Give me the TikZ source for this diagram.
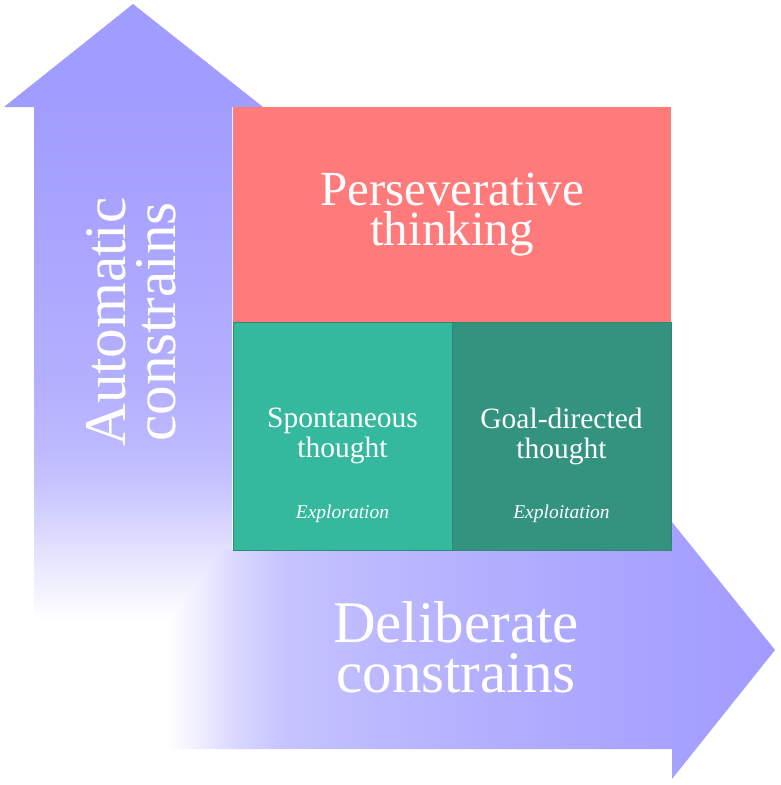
\documentclass[tikz,border=0pt]{standalone}
\usepackage{fontspec}
\setmainfont{Liberation Serif}
\usepackage{xcolor}
\usetikzlibrary{positioning}
\definecolor{cArrow}{HTML}{A19CFF}
\definecolor{cPers} {HTML}{FF7B7B}
\definecolor{cSpont}{HTML}{34B89E}
\definecolor{cGoal} {HTML}{33937F}
% fades of the two big arrows (25bp..75bp = bounding box)
\pgfdeclareverticalshading{vfade}{100bp}{color(0bp)=(white); color(25bp)=(white);
  color(28bp)=(cArrow!16!white); color(30.7bp)=(cArrow!30!white);
  color(33.4bp)=(cArrow!45!white); color(36.1bp)=(cArrow!60!white);
  color(38.8bp)=(cArrow!70!white); color(44.2bp)=(cArrow!80!white);
  color(55bp)=(cArrow!90!white); color(67.2bp)=(cArrow); color(100bp)=(cArrow)}
\pgfdeclarehorizontalshading{hfade}{100bp}{color(0bp)=(white); color(25.2bp)=(white);
  color(27.9bp)=(cArrow!18!white); color(30.6bp)=(cArrow!40!white);
  color(34.7bp)=(cArrow!60!white); color(42.9bp)=(cArrow!72!white);
  color(51.1bp)=(cArrow!80!white); color(59.3bp)=(cArrow!88!white);
  color(66.6bp)=(cArrow!94!white); color(75bp)=(cArrow); color(100bp)=(cArrow)}
\tikzset{
  qbox/.style={rectangle,inner sep=0pt,outer sep=0pt,align=center,text=white,
               font=\fontsize{29.5}{30}\selectfont},
  pbox/.style={qbox,fill=cPers,minimum width=438pt,minimum height=215pt,
               font=\fontsize{49}{40}\selectfont},
  sbox/.style={qbox,fill=cSpont,draw=cGoal!92!black,line width=0.5pt,
               minimum width=219pt,minimum height=228pt},
  gbox/.style={qbox,fill=cGoal,draw=cGoal!92!black,line width=0.5pt,
               minimum width=219pt,minimum height=228pt},
  qlab/.style={text=white,inner sep=0pt,font=\fontsize{19.5}{20}\selectfont\itshape},
  atext/.style={text=white,align=center,inner sep=0pt,
                font=\fontsize{59}{50}\selectfont},
}
\begin{document}
\begin{tikzpicture}[x=1pt,y=-1pt]
  \useasboundingbox (0,0) rectangle (780,785);
  % arrows
  \shade[shading=vfade] (133,4) -- (263,107) -- (232,107) -- (232,620)
    -- (34,620) -- (34,107) -- (4,107) -- cycle;
  \shade[shading=hfade,blend mode=darken] (165,550) -- (672,550) -- (672,522)
    -- (775,650) -- (672,779) -- (672,749) -- (165,749) -- cycle;
  % quadrants
  \node[pbox,anchor=north west] (persev) at (233,107) {Perseverative\\thinking};
  \node[sbox,below right=0pt of persev.south west] (spont) {Spontaneous\\thought};
  \node[gbox,right=0pt of spont] (goal) {Goal-directed\\thought};
  \node[qlab,anchor=base] (explo) at ([yshift=32pt]spont.south) {Exploration};
  \node[qlab,anchor=base] (exploi) at ([yshift=32pt]goal.south) {Exploitation};
  % axis labels
  \node[atext,rotate=90] (autom) at (131,322) {Automatic\\constrains};
  \node[atext] (delib) at (456,647) {Deliberate\\constrains};
\end{tikzpicture}
\end{document}
